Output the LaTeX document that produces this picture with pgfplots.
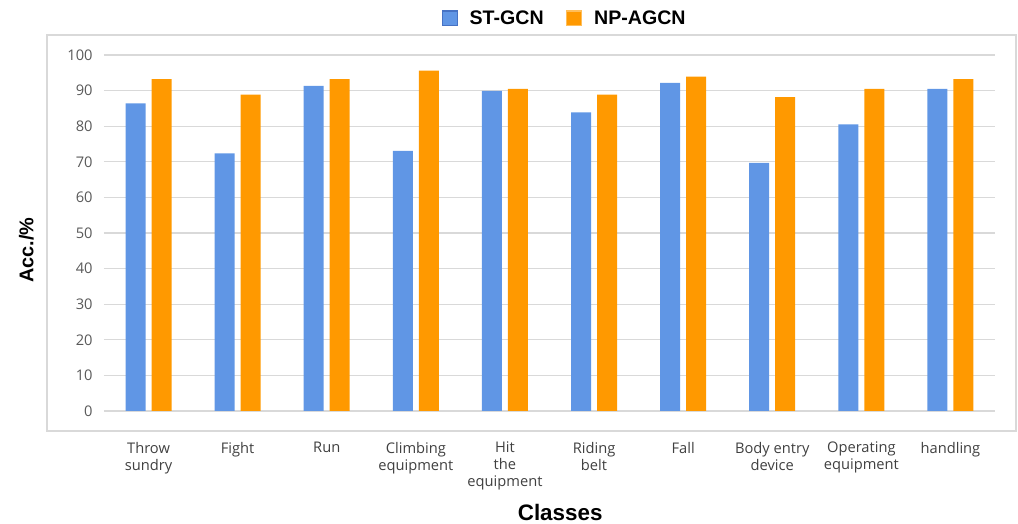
\documentclass[border=0pt]{standalone}
\usepackage{fontspec}
\setmainfont{Open Sans}
\newfontfamily\arial{Liberation Sans}
\usepackage{pgfplots}
\pgfplotsset{compat=1.18}
\definecolor{stblue}{RGB}{96,150,229}
\definecolor{nporange}{RGB}{255,153,0}
\definecolor{gridgray}{RGB}{217,217,217}
\definecolor{ytext}{RGB}{89,89,89}
\definecolor{xtext}{RGB}{64,64,64}
\definecolor{blueedge}{RGB}{70,114,196}
\definecolor{orangeedge}{RGB}{255,190,90}
\begin{document}
\begin{tikzpicture}
\useasboundingbox (-78pt,-84.75pt) rectangle (685.5pt,308.25pt);
\draw[gridgray, line width=1.2pt] (-42.75pt,-15pt) rectangle (684pt,282pt);
\begin{axis}[
  at={(0,0)}, anchor=south west,
  scale only axis, width=668.25pt, height=267pt,
  ybar=4.5pt, bar width=15pt,
  xmin=-0.5, xmax=9.5, ymin=0, ymax=100,
  ytick={0,10,...,100},
  xtick={0,...,9},
  xticklabels={{Throw\\sundry},Fight,Run,{Climbing\\equipment},{Hit\\the\\equipment},{Riding\\belt},Fall,{Body entry\\device},{Operating\\equipment},handling},
  ymajorgrids, major grid style={gridgray, line width=1pt},
  axis line style={draw=none},
  tick style={draw=none},
  /pgf/number format/assume math mode=true,
  yticklabel style={font=\fontsize{11}{13}\selectfont, text=ytext, xshift=-5pt},
  xticklabel style={font=\fontsize{11}{12.75}\selectfont, text=xtext, align=center, anchor=north, yshift=-15.5pt},
  ylabel={Acc./\%}, xlabel={Classes},
  ylabel style={font=\arial\bfseries\fontsize{14.9}{17}\selectfont, at={(axis description cs:-0.087,0.452)}, anchor=center},
  xlabel style={font=\arial\bfseries\fontsize{16.8}{19}\selectfont, at={(axis description cs:0.512,-0.284)}, anchor=center},
  legend style={at={(0.5175,1.103)}, anchor=center, draw=none, fill=none,
    font=\arial\bfseries\fontsize{14.7}{16}\selectfont,
    /tikz/every odd column/.append style={column sep=7pt},
    /tikz/every even column/.append style={column sep=15pt}},
  legend columns=2,
]
\addplot[fill=stblue, draw=none, legend image code/.code={\draw[fill=stblue, draw=blueedge, line width=0.8pt] (0pt,-5.5pt) rectangle (11pt,5.5pt);}] coordinates {(0,86.4) (1,72.4) (2,91.3) (3,73.1) (4,89.9) (5,83.9) (6,92.2) (7,69.7) (8,80.5) (9,90.5)};
\addplot[fill=nporange, draw=none, legend image code/.code={\draw[fill=nporange, draw=orangeedge, line width=0.8pt] (0pt,-5.5pt) rectangle (11pt,5.5pt);}] coordinates {(0,93.2) (1,88.9) (2,93.2) (3,95.6) (4,90.5) (5,88.9) (6,93.9) (7,88.2) (8,90.5) (9,93.2)};
\legend{ST-GCN, NP-AGCN}
\end{axis}
\end{tikzpicture}
\end{document}
